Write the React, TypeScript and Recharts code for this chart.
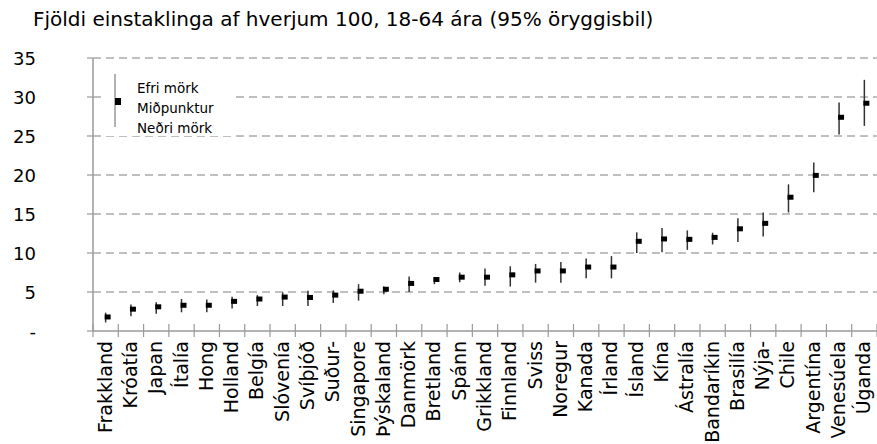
import { CartesianGrid, ErrorBar, Scatter, ScatterChart, XAxis, YAxis } from "recharts";

const categories = [
  "Frakkland", "Króatía", "Japan", "Ítalía", "Hong", "Holland", "Belgía", "Slóvenía",
  "Svíþjóð", "Suður-", "Singapore", "Þýskaland", "Danmörk", "Bretland", "Spánn",
  "Grikkland", "Finnland", "Sviss", "Noregur", "Kanada", "Írland", "Ísland", "Kína",
  "Ástralía", "Bandaríkin", "Brasilía", "Nýja-", "Chile", "Argentína", "Venesúela", "Úganda",
];

// miðpunktur
const midValues = [
  1.8, 2.8, 3.1, 3.3, 3.3, 3.8, 4.1, 4.35, 4.3, 4.6, 5.1, 5.35, 6.1, 6.6, 6.9,
  6.9, 7.2, 7.7, 7.7, 8.2, 8.2, 11.5, 11.8, 11.75, 12.0, 13.1, 13.8, 17.15, 19.95, 27.4, 29.2,
];
// efri mörk
const upperValues = [
  2.35, 3.4, 3.7, 4.1, 4.05, 4.4, 4.6, 4.95, 5.15, 5.2, 6.0, 5.7, 7.0, 6.9, 7.5,
  8.0, 8.3, 8.6, 8.85, 9.3, 9.6, 12.65, 13.2, 12.9, 12.6, 14.45, 15.2, 18.8, 21.6, 29.3, 32.2,
];
// neðri mörk
const lowerValues = [
  1.1, 1.9, 2.2, 2.4, 2.4, 2.9, 3.2, 3.2, 3.2, 3.6, 3.9, 4.7, 5.0, 6.0, 6.25,
  5.8, 5.7, 6.2, 6.2, 6.75, 6.75, 10.0, 10.1, 10.4, 11.1, 11.4, 12.1, 15.2, 17.8, 25.2, 26.3,
];

const yTicks = [0, 5, 10, 15, 20, 25, 30, 35];
const legendLabels = ["Efri mörk", "Miðpunktur", "Neðri mörk"];

const data = categories.map((name, i) => ({
  name,
  x: i + 0.5,
  mid: midValues[i],
  err: [midValues[i] - lowerValues[i], upperValues[i] - midValues[i]],
}));

// ticks at category boundaries (integers) and labels at category centres (halves)
const xTicks: number[] = [];
for (let k = 0; k <= categories.length * 2; k++) xTicks.push(k / 2);

const FONT = "DejaVu Sans";
const AXIS = "#9a9a9a";

function XTick({ x, y, payload }: any) {
  const v = payload.value as number;
  if (Number.isInteger(v)) {
    return <line x1={x} x2={x} y1={y - 7} y2={y + 6} stroke={AXIS} strokeWidth={1.2} />;
  }
  return (
    <text
      transform={`translate(${x - 1},${y + 10}) rotate(-90)`}
      textAnchor="end"
      dominantBaseline="central"
      fontFamily={FONT}
      fontSize={19}
      fill="#000"
    >
      {categories[Math.floor(v)]}
    </text>
  );
}

function YTick({ x, y, payload }: any) {
  return (
    <g>
      <line x1={x - 6} x2={x} y1={y} y2={y} stroke={AXIS} strokeWidth={1.2} />
      <text x={x - 57} y={y} textAnchor="end" dominantBaseline="central" fontFamily={FONT} fontSize={18} fill="#000">
        {payload.value === 0 ? "-" : payload.value}
      </text>
    </g>
  );
}

function MidMark({ cx, cy }: any) {
  return <rect x={cx - 1} y={cy - 2.5} width={6} height={5} fill="#000" />;
}

function KeyBox() {
  return (
    <svg
      width={130}
      height={64}
      style={{ position: "absolute", left: 103, top: 72, overflow: "visible" }}
    >
      <rect x={0} y={0} width={130} height={64} fill="#fff" />
      <line x1={12} x2={12} y1={2} y2={55} stroke="#999" strokeWidth={1.5} />
      <rect x={12} y={26} width={6} height={7} fill="#000" />
      {legendLabels.map((t, i) => (
        <text key={t} x={34} y={16 + i * 20} dominantBaseline="central" fontFamily={FONT} fontSize={13.5} fill="#000">
          {t}
        </text>
      ))}
    </svg>
  );
}

export default function App() {
  return (
    <div style={{ position: "absolute", left: 0, top: 0, width: 877, height: 444, background: "#fff" }}>
      <div
        style={{
          position: "absolute",
          left: 33,
          top: 7,
          fontFamily: FONT,
          fontSize: 20,
          color: "#000",
          whiteSpace: "nowrap",
        }}
      >
        Fjöldi einstaklinga af hverjum 100, 18-64 ára (95% öryggisbil)
      </div>
      <ScatterChart width={877} height={444} margin={{ top: 58, right: 0, bottom: 0, left: 0 }}>
        <CartesianGrid vertical={false} horizontalValues={[5, 10, 15, 20, 25, 30, 35]} stroke="#808080" strokeDasharray="8 5" />
        <XAxis
          type="number"
          dataKey="x"
          domain={[0, categories.length]}
          ticks={xTicks}
          interval={0}
          height={113}
          tickSize={0}
          tickMargin={0}
          tickLine={false}
          axisLine={{ stroke: AXIS, strokeWidth: 1.5 }}
          tick={<XTick />}
          allowDecimals
        />
        <YAxis
          type="number"
          dataKey="mid"
          domain={[0, 35]}
          ticks={yTicks}
          interval={0}
          width={93}
          tickSize={0}
          tickMargin={0}
          tickLine={false}
          axisLine={{ stroke: AXIS, strokeWidth: 1.5 }}
          tick={<YTick />}
        />
        <Scatter data={data} dataKey="mid" shape={<MidMark />} isAnimationActive={false}>
          <ErrorBar dataKey="err" direction="y" width={0} stroke="#333" strokeWidth={1.5} isAnimationActive={false} />
        </Scatter>
      </ScatterChart>
      <KeyBox />
    </div>
  );
}
